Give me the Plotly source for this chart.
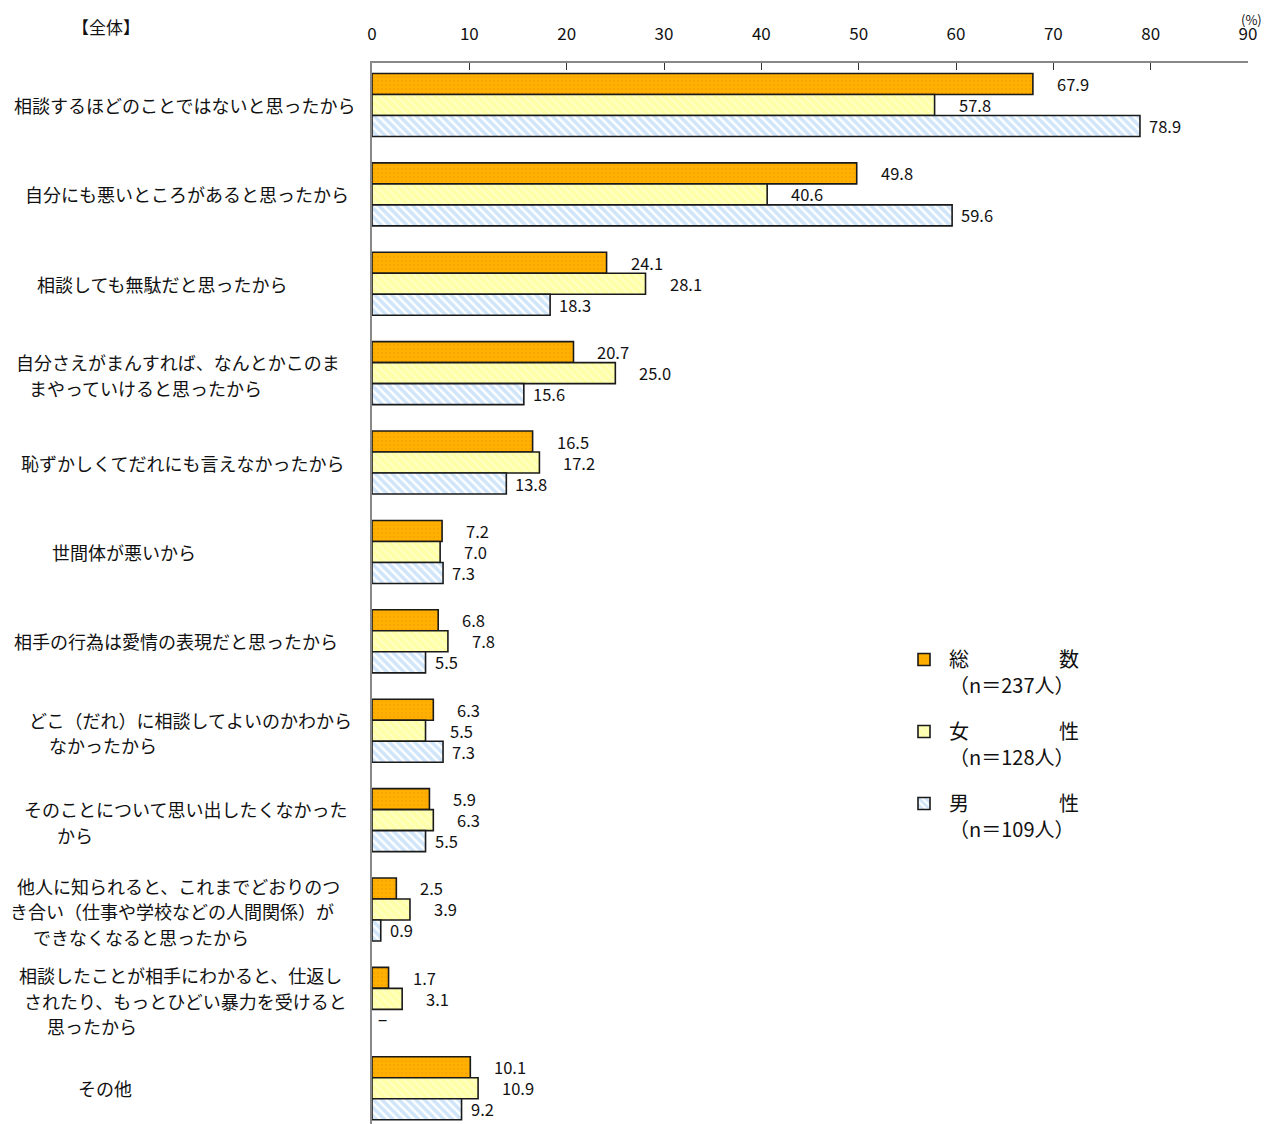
import plotly.graph_objects as go

# Reasons for not consulting anyone (multiple answers, %)
categories = [
    "相談するほどのことではないと思ったから",
    "自分にも悪いところがあると思ったから",
    "相談しても無駄だと思ったから",
    "自分さえがまんすれば、なんとかこのま\nまやっていけると思ったから",
    "恥ずかしくてだれにも言えなかったから",
    "世間体が悪いから",
    "相手の行為は愛情の表現だと思ったから",
    "どこ（だれ）に相談してよいのかわから\nなかったから",
    "そのことについて思い出したくなかった\nから",
    "他人に知られると、これまでどおりのつ\nき合い（仕事や学校などの人間関係）が\nできなくなると思ったから",
    "相談したことが相手にわかると、仕返し\nされたり、もっとひどい暴力を受けると\n思ったから",
    "その他",
]
total = [67.9, 49.8, 24.1, 20.7, 16.5, 7.2, 6.8, 6.3, 5.9, 2.5, 1.7, 10.1]
female = [57.8, 40.6, 28.1, 25.0, 17.2, 7.0, 7.8, 5.5, 6.3, 3.9, 3.1, 10.9]
male = [78.9, 59.6, 18.3, 15.6, 13.8, 7.3, 5.5, 7.3, 5.5, 0.9, None, 9.2]

SP = "\u3000\u3000\u3000\u3000\u2002"
series_names = [
    f"総{SP}数<br>（n＝237人）",
    f"女{SP}性<br>（n＝128人）",
    f"男{SP}性<br>（n＝109人）",
]
x_ticks = [0, 10, 20, 30, 40, 50, 60, 70, 80, 90]

# left indent (px from figure edge) of each wrapped label line
label_indents = [
    [12], [23], [35], [14, 27], [19], [50], [12], [27, 47], [22, 55],
    [15, 8, 31], [17, 22, 45], [76],
]

FONT = "Noto Sans CJK JP"
W, H = 1274, 1124
ML, MR, MT, MB = 372, 26, 63, 0
PW, PH = W - ML - MR, H - MT - MB

styles = [
    dict(color="#FFB000", pattern=dict(shape=".", fgcolor="#F29E00", bgcolor="#FFB000", size=4, solidity=0.3)),
    dict(color="#FFFFA6", pattern=dict(shape="\\", fgcolor="#FFFFE2", bgcolor="#FFFFA6", size=6, solidity=0.4)),
    dict(color="#FFFFFF", pattern=dict(shape="\\", fgcolor="#A2CCF6", bgcolor="#FFFFFF", size=6, solidity=0.6)),
]
label_shift = [22, 22, 7]

fig = go.Figure()
idx = list(range(len(categories)))
for k, (name, vals, st) in enumerate(zip(series_names, [total, female, male], styles)):
    fig.add_trace(go.Bar(
        name=name, y=idx, x=vals, orientation="h", legendgroup=f"g{k}",
        marker=dict(color=st["color"], pattern=st["pattern"],
                    line=dict(color="#1a1a1a", width=1.6)),
    ))

annotations = []
n_series = 3
group_w = 0.705
bar_w = group_w / n_series
for s, vals in enumerate([total, female, male]):
    for i, v in enumerate(vals):
        yc = i - group_w / 2 + bar_w * (s + 0.5)
        annotations.append(dict(
            x=v if v is not None else 0, y=yc, xref="x", yref="y",
            text=f"{v:.1f}" if v is not None else "−",
            showarrow=False, xanchor="left", yanchor="middle",
            xshift=label_shift[s] if v is not None else 4,
            font=dict(family=FONT, size=16.5, color="#111"),
        ))

# category labels, one annotation per line
line_h = 25.5
for i, (cat, indents) in enumerate(zip(categories, label_indents)):
    lines = cat.split("\n")
    n = len(lines)
    for k, (ln, ind) in enumerate(zip(lines, indents)):
        annotations.append(dict(
            x=(ind - ML) / PW, xref="paper", y=i, yref="y",
            yshift=-(k - (n - 1) / 2) * line_h - (2 if n > 1 else 0),
            text=ln, showarrow=False, xanchor="left", yanchor="middle",
            font=dict(family=FONT, size=18, color="#111"),
        ))

annotations.append(dict(
    x=(70 - ML) / PW, y=1, xref="paper", yref="paper", yshift=37,
    text="【全体】", showarrow=False, xanchor="left", yanchor="middle",
    font=dict(family=FONT, size=17, color="#111"),
))
annotations.append(dict(
    x=1.0, y=1, xref="paper", yref="paper", yshift=44, xshift=3,
    text="(%)", showarrow=False, xanchor="center", yanchor="middle",
    font=dict(family=FONT, size=13, color="#111"),
))

fig.update_layout(
    width=W, height=H,
    margin=dict(l=ML, r=MR, t=MT, b=MB, pad=0),
    paper_bgcolor="white", plot_bgcolor="white",
    barmode="group", bargap=0.295, bargroupgap=0,
    font=dict(family=FONT, size=16, color="#111"),
    xaxis=dict(
        side="top", range=[0, 90], tickvals=x_ticks,
        ticks="inside", ticklen=7, tickcolor="#333", tickwidth=1,
        showline=True, linecolor="#888", linewidth=1.5,
        showgrid=False, zeroline=False, ticklabelstandoff=14,
        tickfont=dict(family=FONT, size=17, color="#111"),
    ),
    yaxis=dict(
        range=[11.40, -0.47], showticklabels=False, ticks="",
        showline=True, linecolor="#888", linewidth=1.5,
        showgrid=False, zeroline=False,
    ),
    legend=dict(
        x=(899 - ML) / PW, y=1 - (640 - MT) / PH,
        xanchor="left", yanchor="top", valign="top",
        font=dict(family=FONT, size=20, color="#111"),
        tracegroupgap=17, bgcolor="rgba(0,0,0,0)", itemwidth=40,
        traceorder="grouped",
    ),
    annotations=annotations,
)

fig.write_html("out.html")
